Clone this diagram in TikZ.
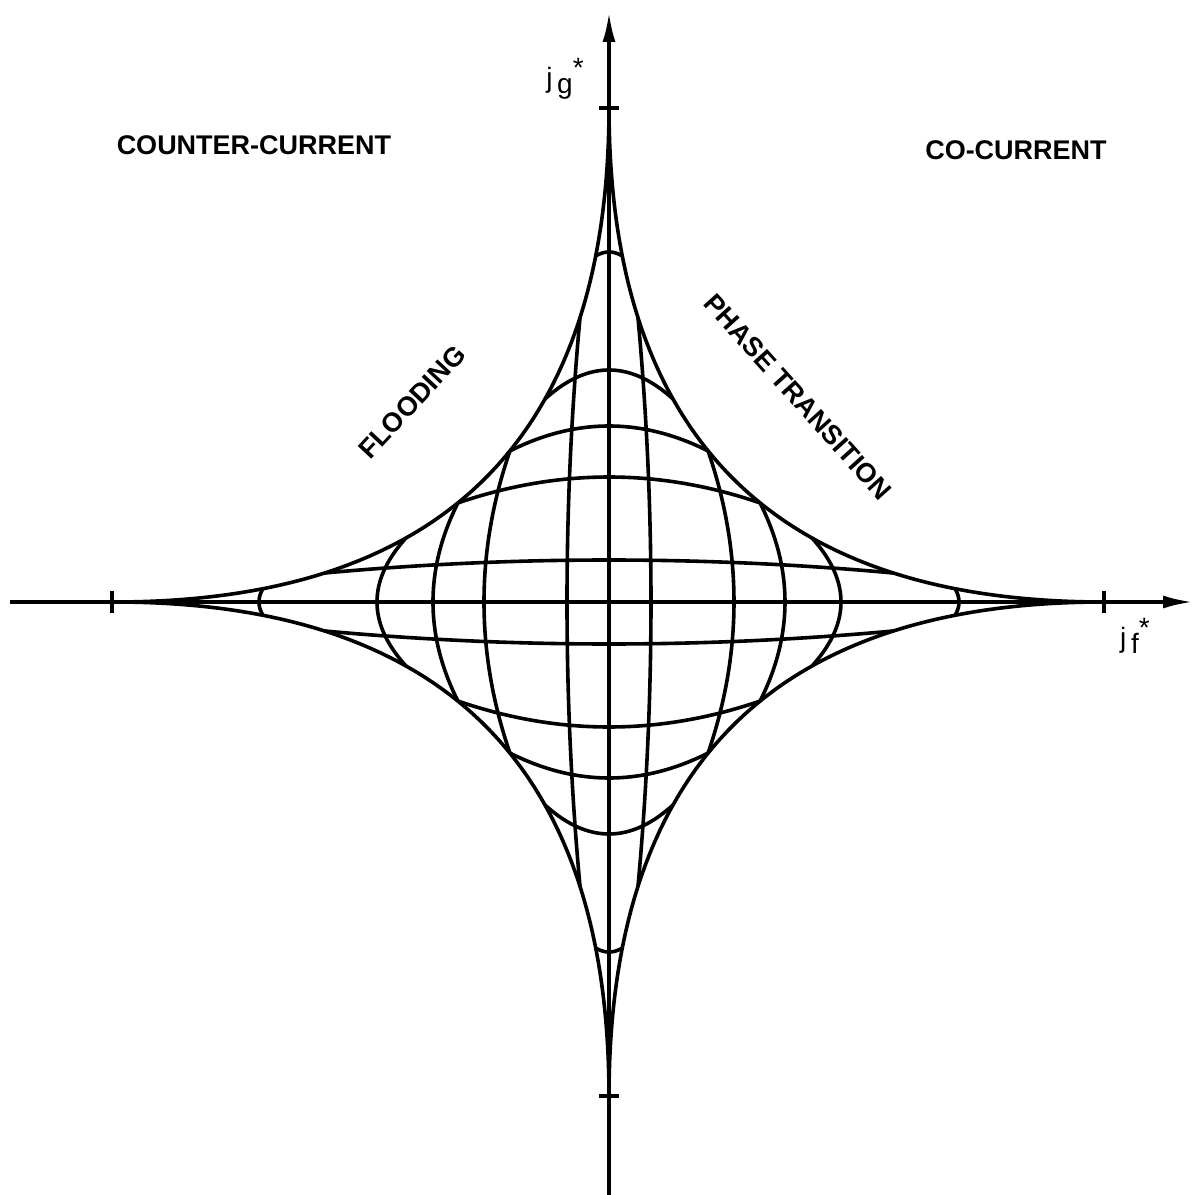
\documentclass[tikz,border=0pt]{standalone}
\usepackage{fontspec}
\setsansfont{Liberation Sans}
\usetikzlibrary{arrows.meta}

\begin{document}
\begin{tikzpicture}[x=0.5pt,y=0.5pt,font=\sffamily,curve/.style={line width=1.8pt,line join=round},axis/.style={line width=1.8pt,-{Latex[length=15pt,width=6.5pt]}},axtick/.style={line width=2.2pt},region/.style={font=\sffamily\bfseries\fontsize{13.5}{16}\selectfont},axlabel/.style={font=\sffamily\fontsize{14}{16}\selectfont}]
\useasboundingbox (-609,-593) rectangle (584,602);
\coordinate (W) at (-599,0); \coordinate (E) at (584,0);
\coordinate (S) at (0,-593); \coordinate (N) at (0,590);
\draw[axis] (W) -- (E);
\draw[axis] (S) -- (N);
\foreach \p in {-497,495} \draw[axtick] (\p,-11) -- (\p,11);
\foreach \p in {-494,494} \draw[axtick] (-10,\p) -- (10,\p);
% envelope sqrt|x| + sqrt|y| = sqrt(495)
\foreach \sx/\sy in {1/1,-1/1,-1/-1,1/-1}
  \draw[curve] plot[domain=0:90,samples=181,variable=\t] ({\sx*495*cos(\t)*cos(\t)*cos(\t)*cos(\t)},{\sy*495*sin(\t)*sin(\t)*sin(\t)*sin(\t)});
% grid of arcs ending on the envelope
\foreach \h/\ye in {42/29,125/99,176/151,232/203,350/346}{
  \pgfmathsetmacro\xe{(sqrt(495)-sqrt(\ye))^2}
  \foreach \s in {1,-1}{
    \draw[curve] plot[domain=-\xe:\xe,samples=41,variable=\u] (\u,{\s*(\h-(\h-\ye)*(\u/\xe)*(\u/\xe))});
    \draw[curve] plot[domain=-\xe:\xe,samples=41,variable=\u] ({\s*(\h-(\h-\ye)*(\u/\xe)*(\u/\xe))},\u);
  }
}
\node[region] (cc) at (-355,457) {COUNTER-CURRENT};
\node[region] (co) at (407,452) {CO-CURRENT};
\node[region,rotate=47] (fl) at (-197,200) {FLOODING};
\node[region,rotate=-48] (pt) at (189,205) {PHASE TRANSITION};
\node[axlabel] (jg) at (-44,523) {j\,\raisebox{-3pt}{g}\raisebox{5pt}{*}};
\node[axlabel] (jf) at (526,-34) {j\,\raisebox{-3pt}{f}\raisebox{5pt}{*}};
\end{tikzpicture}
\end{document}
